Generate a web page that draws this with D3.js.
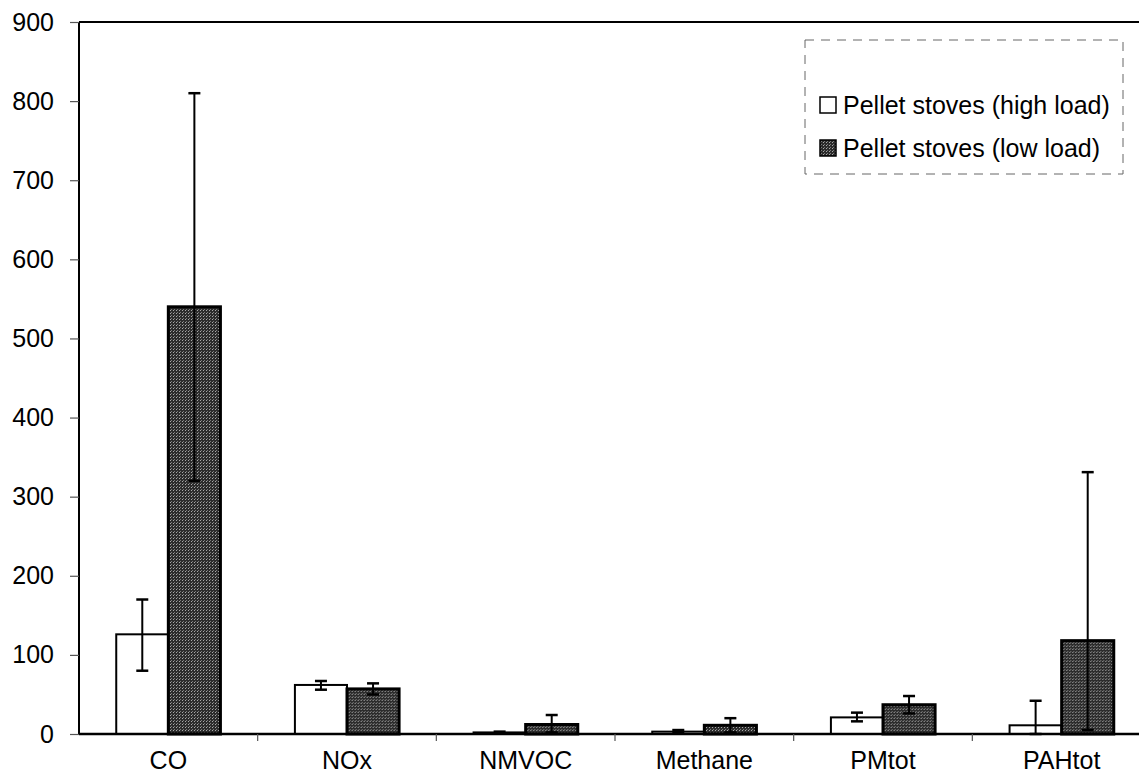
<!DOCTYPE html>
<html>
<head>
<meta charset="utf-8">
<script src="https://cdn.jsdelivr.net/npm/d3@7"></script>
<style>
  body { margin: 0; background: #fff; }
  svg { display: block; font-family: Arial, "Liberation Sans", sans-serif; }
</style>
</head>
<body>
<div id="chart"></div>
<script>
// data
const categories = ["CO", "NOx", "NMVOC", "Methane", "PMtot", "PAHtot"];
const seriesNames = ["Pellet stoves (high load)", "Pellet stoves (low load)"];
const highLoad = [126, 62, 2, 3, 21, 11];
const lowLoad = [540, 57, 12, 11, 37, 118];
// error bar ends (lower / upper)
const highLo = [80, 56, 1, 1, 16, 0];
const highHi = [170, 67, 3, 5, 27, 42];
const lowLo = [320, 50, 2, 2, 26, 5];
const lowHi = [810, 64, 24, 20, 48, 331];
const yTicks = [0, 100, 200, 300, 400, 500, 600, 700, 800, 900];

const width = 1139, height = 782;
const plot = {left: 79, right: 1151, top: 22, bottom: 734};

const svg = d3.select("#chart").append("svg")
    .attr("width", width)
    .attr("height", height);

// dotted texture for the dark bars
const defs = svg.append("defs");
const pat = defs.append("pattern")
    .attr("id", "speckle")
    .attr("width", 3).attr("height", 3)
    .attr("patternUnits", "userSpaceOnUse");
pat.append("rect").attr("width", 3).attr("height", 3).attr("fill", "#2c2c2c");
pat.append("rect").attr("x", 1).attr("y", 1).attr("width", 1).attr("height", 1).attr("fill", "#a8a8a8");
pat.append("rect").attr("x", 2).attr("y", 0).attr("width", 1).attr("height", 1).attr("fill", "#7a7a7a");

const x = d3.scaleBand()
    .domain(categories)
    .range([plot.left, plot.right])
    .padding(0);

const xSub = d3.scaleBand()
    .domain(["high", "low"])
    .range([0, x.bandwidth()])
    .paddingInner(0)
    .paddingOuter(0.715);

const y = d3.scaleLinear()
    .domain([0, 900])
    .range([plot.bottom, plot.top]);

const rows = categories.map((c, i) => ({
    cat: c,
    bars: [
        {key: "high", v: highLoad[i], lo: highLo[i], hi: highHi[i]},
        {key: "low", v: lowLoad[i], lo: lowLo[i], hi: lowHi[i]}
    ]
}));

// top frame line
svg.append("line")
    .attr("x1", plot.left).attr("x2", width)
    .attr("y1", plot.top).attr("y2", plot.top)
    .attr("stroke", "#000").attr("stroke-width", 2);

// y axis
const yAxis = svg.append("g")
    .attr("transform", "translate(" + plot.left + ",0)")
    .call(d3.axisLeft(y).tickValues(yTicks).tickSize(9).tickPadding(16));
yAxis.select(".domain").attr("stroke-width", 2).attr("d", "M0," + plot.top + "V" + plot.bottom);
yAxis.selectAll(".tick line").attr("stroke", "#555").attr("stroke-width", 1.2);
yAxis.selectAll("text").attr("font-size", 25).attr("fill", "#000");

// bars
const groups = svg.selectAll("g.cat")
    .data(rows)
    .enter()
    .append("g")
    .attr("class", "cat")
    .attr("transform", d => "translate(" + x(d.cat) + ",0)");

groups.selectAll("rect")
    .data(d => d.bars)
    .enter()
    .append("rect")
    .attr("x", d => xSub(d.key))
    .attr("y", d => y(d.v))
    .attr("width", xSub.bandwidth())
    .attr("height", d => y(0) - y(d.v))
    .attr("fill", d => d.key === "high" ? "#fff" : "url(#speckle)")
    .attr("stroke", "#000")
    .attr("stroke-width", d => d.key === "high" ? 2 : 3);

// error bars
const err = groups.selectAll("g.err")
    .data(d => d.bars)
    .enter()
    .append("g")
    .attr("class", "err")
    .attr("transform", d => "translate(" + (xSub(d.key) + xSub.bandwidth() / 2) + ",0)");

err.append("line")
    .attr("y1", d => y(d.lo)).attr("y2", d => y(d.hi))
    .attr("stroke", "#000").attr("stroke-width", 2);
err.append("line")
    .attr("x1", -6).attr("x2", 6)
    .attr("y1", d => y(d.hi)).attr("y2", d => y(d.hi))
    .attr("stroke", "#000").attr("stroke-width", 2.5);
err.append("line")
    .attr("x1", -6).attr("x2", 6)
    .attr("y1", d => y(d.lo)).attr("y2", d => y(d.lo))
    .attr("stroke", "#000").attr("stroke-width", 2.5);

// x axis
const xAxis = svg.append("g")
    .attr("transform", "translate(0," + plot.bottom + ")")
    .call(d3.axisBottom(x).tickSize(0).tickPadding(17));
xAxis.select(".domain").attr("stroke-width", 2.5).attr("d", "M" + plot.left + ",0H" + width);
xAxis.selectAll("text").attr("font-size", 25).attr("fill", "#000");

// category separators on the x axis
svg.append("g")
    .selectAll("line")
    .data(categories.slice(1))
    .enter()
    .append("line")
    .attr("x1", d => x(d)).attr("x2", d => x(d))
    .attr("y1", plot.bottom).attr("y2", plot.bottom + 7)
    .attr("stroke", "#555").attr("stroke-width", 1.2);

// legend
const legend = svg.append("g");
legend.append("rect")
    .attr("x", 805).attr("y", 40)
    .attr("width", 318).attr("height", 134)
    .attr("fill", "#fff")
    .attr("stroke", "#666")
    .attr("stroke-width", 1)
    .attr("stroke-dasharray", "9,7");

const legendY = [105, 148];
seriesNames.forEach((name, i) => {
    legend.append("rect")
        .attr("x", 820).attr("y", legendY[i] - 8)
        .attr("width", 16).attr("height", 16)
        .attr("fill", i === 0 ? "#fff" : "url(#speckle)")
        .attr("stroke", "#000")
        .attr("stroke-width", 1.5);
    legend.append("text")
        .attr("x", 843).attr("y", legendY[i])
        .attr("dy", "0.35em")
        .attr("font-size", 25)
        .text(name);
});
</script>
</body>
</html>
